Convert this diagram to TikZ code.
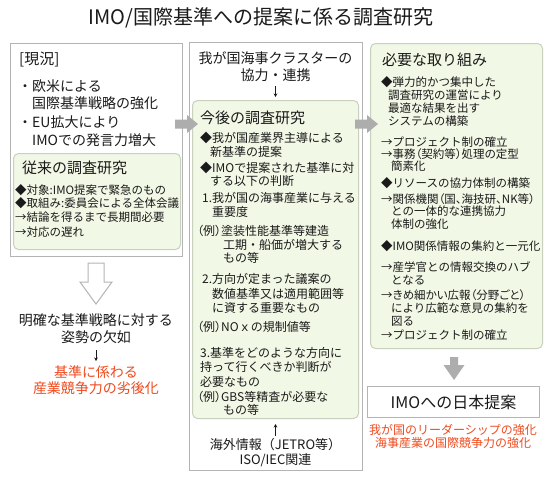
\documentclass[tikz,border=0pt]{standalone}
\usepackage{fontspec}
\setmainfont{Noto Sans CJK JP}
\newfontfamily\pfont[RawFeature=+palt]{Noto Sans CJK JP}
\usetikzlibrary{arrows.meta}
\definecolor{txt}{HTML}{1A1A1A}
\definecolor{boxline}{HTML}{B4B4B4}
\definecolor{grfill}{HTML}{F2F8E6}
\definecolor{grline}{HTML}{C8D0BE}
\definecolor{arrg}{HTML}{ADADAD}
\definecolor{redt}{HTML}{F04A1E}
\tikzset{
  base/.style={inner sep=0pt, text=txt, anchor=west},
  sa/.style={base, font=\fontsize{11.5}{13}\selectfont, text height=10.1pt, text depth=1.4pt},
  sb/.style={base, font=\fontsize{12}{14}\selectfont, text height=10.56pt, text depth=1.44pt},
  sc/.style={base, font=\fontsize{13}{15}\selectfont, text height=11.44pt, text depth=1.56pt},
  sd/.style={base, font=\fontsize{14}{16}\selectfont, text height=12.32pt, text depth=1.68pt},
  se/.style={base, font=\fontsize{15}{17}\selectfont, text height=13.2pt, text depth=1.8pt},
  sf/.style={base, font=\fontsize{16}{18}\selectfont, text height=14.08pt, text depth=1.92pt},
  sg/.style={base, font=\fontsize{20}{22}\selectfont, text height=17.6pt, text depth=2.4pt},
  ctr/.style={anchor=center},
  redtext/.style={text=redt},
  outerbox/.style={draw=boxline, line width=1pt, fill=white, inner sep=0pt, anchor=north west},
  greenbox/.style={draw=grline, line width=1pt, fill=grfill, rounded corners=5pt, inner sep=0pt, anchor=north west},
  thinarr/.style={draw=txt, line width=0.8pt, -{Stealth[length=3.5pt,width=3.5pt]}},
  bigarr/.style={fill=arrg},
  hollowarr/.style={draw=boxline, line width=1pt, fill=white, line join=miter}
}
\begin{document}
\begin{tikzpicture}[x=1pt,y=-1pt]
\useasboundingbox (0,0) rectangle (550,482);
\fill[white] (0,0) rectangle (550,482);

% title
\node[sg, ctr] (title) at (261,17) {IMO/国際基準への提案に係る調査研究};

% ---------- left column ----------
\node[outerbox, minimum width=172, minimum height=213] (leftbox) at (10,43) {};
\node[se] (genkyo) at (19,59) {[現況]};
\node[sd] (l1) at (18,86) {・欧米による};
\node[sd] (l2) at (32,103) {国際基準戦略の強化};
\node[sd] (l3) at (18,122) {・EU拡大により};
\node[sd] (l4) at (32,140) {IMOでの発言力増大};
\node[greenbox, minimum width=167, minimum height=96] (leftgreen) at (13,153) {};
\node[se] (lg0) at (22,168) {従来の調査研究};
\node[sa] (lg1) at (15,190) {◆対象:IMO提案で緊急のもの};
\node[sa] (lg2) at (15,203.5) {◆取組み:委員会による全体会議};
\node[sa] (lg3) at (15,217) {→結論を得るまで長期間必要};
\node[sa] (lg4) at (15,232) {→対応の遅れ};

\draw[hollowarr] (88,263) -- (104,263) -- (104,282) -- (112,282) -- (96,304) -- (80,282) -- (88,282) -- cycle;

\node[sd, ctr] (lack1) at (96,320) {明確な基準戦略に対する};
\node[sd, ctr] (lack2) at (96,337) {姿勢の欠如};
\coordinate (la1) at (96,350);
\coordinate (la2) at (96,361);
\draw[thinarr] (la1) -- (la2);
\node[sd, ctr, redtext] (red1) at (96,372) {基準に係わる};
\node[sd, ctr, redtext] (red2) at (96,388) {産業競争力の劣後化};

% ---------- middle column ----------
\node[outerbox, minimum width=173, minimum height=428] (midbox) at (189,42) {};
\node[sd, ctr] (m0a) at (275.5,58) {我が国海事クラスターの};
\node[sd, ctr] (m0b) at (275.5,75) {協力・連携};
\coordinate (ma1) at (275.5,86);
\coordinate (ma2) at (275.5,97);
\draw[thinarr] (ma1) -- (ma2);
\node[greenbox, minimum width=166, minimum height=318] (midgreen) at (192,100) {};
\node[se] (mg0) at (200,118) {今後の調査研究};
\node[sb] (mg1) at (200,138) {◆我が国産業界主導による};
\node[sb] (mg2) at (210,152) {新基準の提案};
\node[sb] (mg3) at (200,168) {◆IMOで提案された基準に対};
\node[sb] (mg4) at (210,181) {する以下の判断};
\node[sb] (mg5) at (202,198) {1.我が国の海事産業に与える};
\node[sb] (mg6) at (212,212) {重要度};
\node[sb] (mg7) at (197,231) {{\pfont （例）}塗装性能基準等建造};
\node[sb] (mg8) at (223,245) {工期・船価が増大する};
\node[sb] (mg9) at (223,258) {もの等};
\node[sb] (mg10) at (202,279) {2.方向が定まった議案の};
\node[sb] (mg11) at (212,294) {数値基準又は適用範囲等};
\node[sb] (mg12) at (212,308) {に資する重要なもの};
\node[sb] (mg13) at (197,327) {{\pfont （例）}NOｘの規制値等};
\node[sb] (mg14) at (200,353) {3.基準をどのような方向に};
\node[sb] (mg15) at (200,367) {持って行くべきか判断が};
\node[sb] (mg16) at (200,382) {必要なもの};
\node[sb] (mg17) at (197,397) {{\pfont （例）}GBS等精査が必要な};
\node[sb] (mg18) at (223,410) {もの等};
\coordinate (mb1) at (275.5,436);
\coordinate (mb2) at (275.5,424);
\draw[thinarr] (mb1) -- (mb2);
\node[sc, ctr] (ov1) at (275.5,445) {海外情報（JETRO等）};
\node[sc, ctr] (ov2) at (275.5,460) {ISO/IEC関連};

% ---------- right column ----------
\node[greenbox, minimum width=172, minimum height=305] (rightgreen) at (370,43) {};
\node[se] (r0) at (382,60) {必要な取り組み};
\node[sa] (r1) at (381,82) {◆弾力的かつ集中した};
\node[sa] (r2) at (388,95) {調査研究の運営により};
\node[sa] (r3) at (388,108) {最適な結果を出す};
\node[sa] (r4) at (388,121) {システムの構築};
\node[sa] (r5) at (381,142) {→プロジェクト制の確立};
\node[sa] (r6) at (381,154) {{\pfont →事務（契約等）処理の定型}};
\node[sa] (r7) at (391,166) {簡素化};
\node[sa] (r8) at (381,183) {◆リソースの協力体制の構築};
\node[sa] (r9) at (381,199) {{\pfont →関係機関（国、海技研、NK等）}};
\node[sa] (r10) at (391,211) {との一体的な連携協力};
\node[sa] (r11) at (391,224) {体制の強化};
\node[sa] (r12) at (381,246) {◆IMO関係情報の集約と一元化};
\node[sa] (r13) at (381,267) {→産学官との情報交換のハブ};
\node[sa] (r14) at (391,280) {となる};
\node[sa] (r15) at (381,295) {{\pfont →きめ細かい広報（分野ごと）}};
\node[sa] (r16) at (391,308) {により広範な意見の集約を};
\node[sa] (r17) at (391,321) {図る};
\node[sa] (r18) at (381,335) {→プロジェクト制の確立};

\fill[bigarr] (450,357) -- (458,357) -- (458,365) -- (464.5,365) -- (454,380) -- (443.5,365) -- (450,365) -- cycle;

\node[outerbox, sf, anchor=north west, minimum width=172, minimum height=31, align=center] (imo) at (367,386) {IMOへの日本提案};
\node[sb, ctr, redtext] (rr1) at (453,430) {我が国のリーダーシップの強化};
\node[sb, ctr, redtext] (rr2) at (453,443) {海事産業の国際競争力の強化};

% ---------- gray arrows between columns ----------
\fill[bigarr] (175,119.5) -- (187,119.5) -- (187,115) -- (198,124) -- (187,133) -- (187,128.5) -- (175,128.5) -- cycle;
\fill[bigarr] (355,119.5) -- (367,119.5) -- (367,115) -- (378,124) -- (367,133) -- (367,128.5) -- (355,128.5) -- cycle;
\end{tikzpicture}
\end{document}
